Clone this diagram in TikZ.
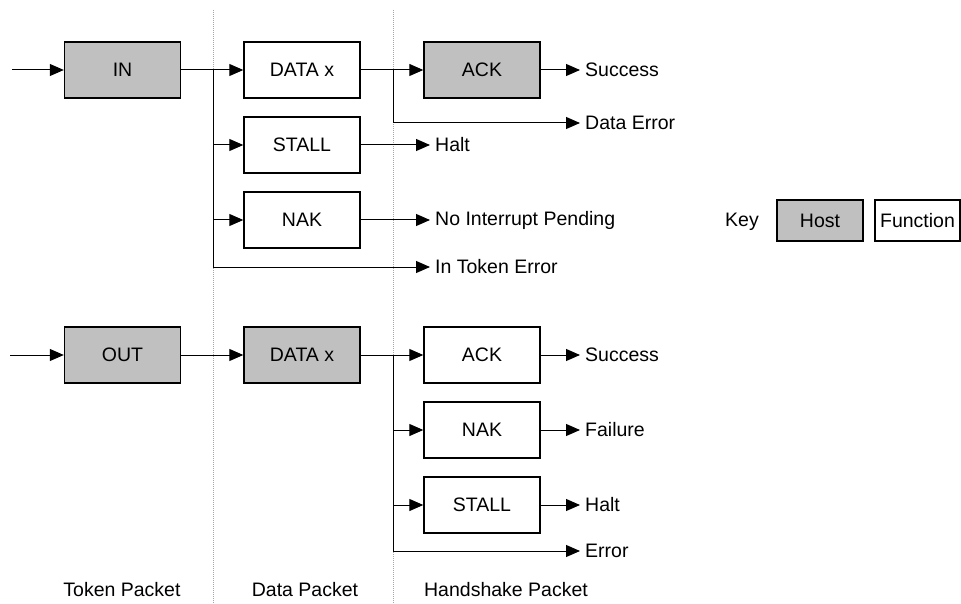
\documentclass[tikz,border=0pt]{standalone}
\usepackage{xcolor}
\usepackage{fontspec}
\setmainfont{Liberation Sans}
\usetikzlibrary{arrows.meta}
\definecolor{hostgray}{RGB}{192,192,192}
\tikzset{
    every node/.style={font=\fontsize{19.5}{22}\selectfont},
    pkt/.style={draw, line width=1.4pt, minimum width=116pt, minimum height=56pt, inner sep=0pt},
    host/.style={pkt, fill=hostgray},
    func/.style={pkt, fill=white},
    res/.style={anchor=west, inner sep=5pt},
    arr/.style={line width=1pt, -{Triangle[length=14pt,width=12pt]}},
    wire/.style={line width=1pt},
    sep/.style={densely dotted, gray!70, line width=1pt}
}
\begin{document}
\begin{tikzpicture}[x=1pt, y=-1pt]
    \useasboundingbox (0,0) rectangle (961,604);
    %\draw[help lines] (0,0) grid[step=50] (961,604);
    % separateurs
    \coordinate (s1t) at (213,10);
    \coordinate (s1b) at (213,604);
    \coordinate (s2t) at (393,10);
    \coordinate (s2b) at (393,604);
    \draw[sep] (s1t) -- (s1b);
    \draw[sep] (s2t) -- (s2b);
    % IN
    \node[host] (in) at (122.5,70) {IN};
    \node[func] (din) at (302,70) {DATA x};
    \node[func] (stin) at (302,145) {STALL};
    \node[func] (nkin) at (302,220) {NAK};
    \node[host] (ackin) at (482,70) {ACK};
    \node[res] (succin) at (580,70) {Success};
    \node[res] (derr) at (580,123) {Data Error};
    \node[res] (haltin) at (430,145) {Halt};
    \node[res] (nip) at (430,220) {No Interrupt Pending};
    \node[res] (tokerr) at (430,267) {In Token Error};
    \coordinate (startin) at (12,70);
    \coordinate (ta) at (213,70);
    \coordinate (taend) at (213,267);
    \coordinate (tb) at (393,70);
    \coordinate (tbend) at (393,123);
    \draw[arr] (startin) -- (in);
    \draw[arr] (in) -- (din);
    \draw[wire] (ta) -- (taend);
    \draw[arr] (ta |- stin) -- (stin);
    \draw[arr] (ta |- nkin) -- (nkin);
    \draw[arr] (taend) -- (tokerr.west);
    \draw[arr] (din) -- (ackin);
    \draw[wire] (tb) -- (tbend);
    \draw[arr] (tbend) -- (derr.west);
    \draw[arr] (ackin) -- (succin.west);
    \draw[arr] (stin) -- (haltin.west);
    \draw[arr] (nkin) -- (nip.west);
    % OUT
    \node[host] (out) at (122.5,355) {OUT};
    \node[host] (dout) at (302,355) {DATA x};
    \node[func] (ackout) at (482,355) {ACK};
    \node[func] (nkout) at (482,430) {NAK};
    \node[func] (stout) at (482,505) {STALL};
    \node[res] (succout) at (580,355) {Success};
    \node[res] (fail) at (580,430) {Failure};
    \node[res] (haltout) at (580,505) {Halt};
    \node[res] (err) at (580,551) {Error};
    \coordinate (startout) at (10,355);
    \coordinate (tc) at (393,355);
    \coordinate (tcend) at (393,551);
    \draw[arr] (startout) -- (out);
    \draw[arr] (out) -- (dout);
    \draw[wire] (dout) -- (tc) -- (tcend);
    \draw[arr] (tc) -- (ackout);
    \draw[arr] (tc |- nkout) -- (nkout);
    \draw[arr] (tc |- stout) -- (stout);
    \draw[arr] (tcend) -- (err.west);
    \draw[arr] (ackout) -- (succout.west);
    \draw[arr] (nkout) -- (fail.west);
    \draw[arr] (stout) -- (haltout.west);
    % legende
    \node (key) at (742,222) {Key};
    \node[host, minimum width=86pt, minimum height=41pt] (khost) at (820,220.5) {Host};
    \node[func, minimum width=85pt, minimum height=41pt] (kfunc) at (917.5,220.5) {Function};
    % colonnes
    \node (tokp) at (122,590) {Token Packet};
    \node (datp) at (305,590) {Data Packet};
    \node (hsp) at (506,590) {Handshake Packet};
\end{tikzpicture}
\end{document}
